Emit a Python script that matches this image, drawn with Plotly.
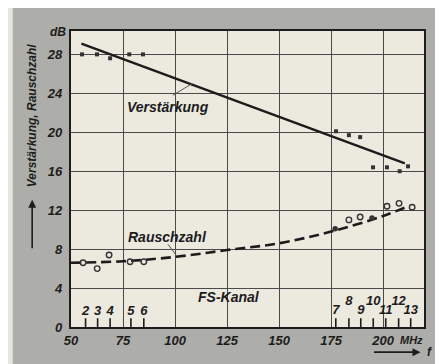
import plotly.graph_objects as go

# ---- data ----
gain_line_f = [55, 210.5]
gain_line_db = [29.1, 16.8]

gain_pts_f = [55.3, 62.5, 68.8, 78.0, 84.6, 177.4, 183.6, 189.0, 195.2, 201.9, 208.0, 212.0]
gain_pts_db = [28.0, 28.0, 27.6, 28.0, 28.0, 20.1, 19.7, 19.5, 16.4, 16.4, 16.0, 16.5]

noise_curve_f = [50, 75, 100, 125, 150, 175, 200, 212]
noise_curve_db = [6.6, 6.75, 7.2, 7.9, 8.6, 9.8, 11.4, 12.4]

noise_open_f = [55.8, 62.6, 68.3, 78.4, 85.0, 183.6, 189.0, 201.9, 207.7, 214.0]
noise_open_db = [6.6, 6.0, 7.4, 6.7, 6.7, 11.0, 11.3, 12.4, 12.7, 12.3]
noise_filled_f = [177.0, 194.7]
noise_filled_db = [10.1, 11.2]

channel_names = ["2", "3", "4", "5", "6", "7", "8", "9", "10", "11", "12", "13"]
channel_f = [57, 62.8, 68.8, 78.8, 85, 177.3, 183.6, 189.3, 195.3, 201.3, 207.5, 213.3]
channel_label_db = [1.55, 1.55, 1.55, 1.55, 1.55, 1.7, 2.6, 1.7, 2.6, 1.7, 2.6, 1.7]

x_ticks = [50, 75, 100, 125, 150, 175, 200]
y_ticks = [0, 4, 8, 12, 16, 20, 24, 28]

FONT = "Liberation Sans Narrow, Liberation Sans, Arial"
INK = "#1c1c1c"

fig = go.Figure()

# channel tick marks
tx, ty = [], []
for f in channel_f:
    tx += [f, f, None]
    ty += [0, 0.9, None]
fig.add_trace(go.Scatter(x=tx, y=ty, mode="lines", line=dict(color=INK, width=1.6),
                         hoverinfo="skip", showlegend=False))
fig.add_trace(go.Scatter(x=channel_f, y=channel_label_db, mode="text", text=channel_names,
                         textfont=dict(family=FONT, size=13, color=INK, style="italic", weight="bold"),
                         showlegend=False))

# gain
fig.add_trace(go.Scatter(x=gain_line_f, y=gain_line_db, mode="lines",
                         line=dict(color=INK, width=2.4), showlegend=False))
fig.add_trace(go.Scatter(x=gain_pts_f, y=gain_pts_db, mode="markers",
                         marker=dict(symbol="square", size=4, color="#333"), showlegend=False))

# noise figure
fig.add_trace(go.Scatter(x=noise_curve_f, y=noise_curve_db, mode="lines",
                         line=dict(color=INK, width=2.6, dash="10px,5px", shape="spline"),
                         showlegend=False))
fig.add_trace(go.Scatter(x=noise_open_f, y=noise_open_db, mode="markers",
                         marker=dict(symbol="circle-open", size=5.5, color="#333", line=dict(width=1.4)),
                         showlegend=False))
fig.add_trace(go.Scatter(x=noise_filled_f, y=noise_filled_db, mode="markers",
                         marker=dict(symbol="circle", size=5.5, color="#333"), showlegend=False))

# leader lines
fig.add_trace(go.Scatter(x=[99, 108.2], y=[23.8, 25.0], mode="lines",
                         line=dict(color="#555", width=1), showlegend=False))
fig.add_trace(go.Scatter(x=[96.6, 100.5], y=[8.5, 7.4], mode="lines",
                         line=dict(color="#555", width=1), showlegend=False))

lab = dict(family=FONT, size=14, color=INK, style="italic", weight="bold")
small = dict(family=FONT, size=12, color=INK, style="italic", weight="bold")
C = dict(xanchor="center", yanchor="middle", showarrow=False)
ann = [
    dict(x=96.6, y=22.6, text="Verstärkung", font=lab, **C),
    dict(x=96.6, y=9.2, text="Rauschzahl", font=lab, **C),
    dict(x=126, y=3.1, text="FS-Kanal", font=lab, **C),
    dict(xref="paper", yref="paper", x=-0.037, y=0.995, text="dB", font=small, **C),
    dict(xref="paper", yref="paper", x=0.966, y=-0.044, text="MHz", font=dict(small, size=11), **C),
    dict(xref="paper", yref="paper", x=-0.11, y=0.716, text="Verstärkung, Rauschzahl",
         textangle=-90, font=small, **C),
    dict(xref="paper", yref="paper", x=-0.11, y=0.43, ax=0, ay=50, text="",
         showarrow=True, arrowhead=2, arrowsize=1, arrowwidth=1.6, arrowcolor=INK),
    dict(xref="paper", yref="paper", x=0.99, y=-0.085, ax=-48, ay=0, text="",
         showarrow=True, arrowhead=2, arrowsize=1, arrowwidth=1.6, arrowcolor=INK),
    dict(xref="paper", yref="paper", x=1.015, y=-0.085, text="f", font=small, **C),
]

tickfont = dict(family=FONT, size=13, color=INK, style="italic", weight="bold")
# the page body adds an 8px offset, so the figure is 8px smaller and margins shifted
fig.update_layout(
    width=435, height=356,
    margin=dict(l=63, r=19, t=23, b=37),
    paper_bgcolor="#adaea9",
    plot_bgcolor="#ece9df",
    annotations=ann,
    shapes=[
        dict(type="rect", xref="paper", yref="paper", x0=-0.3, x1=1.1, y0=1.08, y1=1.2,
             fillcolor="#e6e4dd", line=dict(width=0), layer="below"),
        dict(type="rect", xref="paper", yref="paper", x0=-0.3, x1=-0.165, y0=-0.2, y1=1.2,
             fillcolor="#e6e4dd", line=dict(width=0), layer="below"),
    ],
    xaxis=dict(range=[50, 219.7], tickvals=x_ticks, ticktext=[str(v) for v in x_ticks],
               showgrid=True, gridcolor="#4a4a4a", gridwidth=1.3, zeroline=False,
               showline=True, mirror=True, linecolor=INK, linewidth=2.2,
               ticks="", tickfont=tickfont),
    yaxis=dict(range=[0, 30.4], tickvals=y_ticks, ticktext=[str(v) for v in y_ticks],
               showgrid=True, gridcolor="#4a4a4a", gridwidth=1.3, zeroline=False,
               showline=True, mirror=True, linecolor=INK, linewidth=2.2,
               ticks="", tickfont=tickfont, ticklabelstandoff=4),
)

fig.write_html("out.html")
